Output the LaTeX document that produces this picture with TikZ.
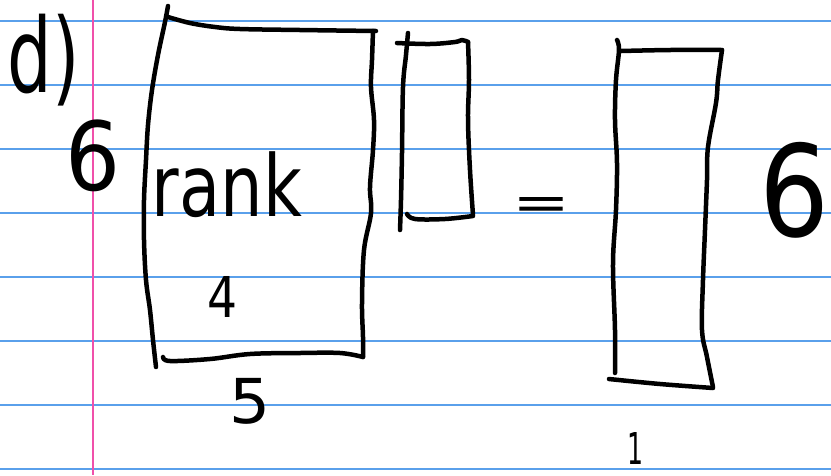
\documentclass[tikz,border=0pt]{standalone}
\usepackage{fontspec}
\setmainfont{DejaVu Sans}
\usepackage{graphicx}
\definecolor{ruleblue}{RGB}{90,160,235}
\definecolor{marginpink}{RGB}{240,80,170}
\tikzset{
  ruled/.style={draw=ruleblue, line width=1.6pt},
  margin/.style={draw=marginpink, line width=2.2pt},
  ink/.style={draw=black, line width=4.5pt, line cap=round, line join=round},
  note/.style={inner sep=0pt, outer sep=0pt, text=black},
}
% handwritten label squeezed into a given width x height (pt)
\newcommand{\hw}[3]{\resizebox*{#1pt}{#2pt}{#3}}

\begin{document}
\begin{tikzpicture}[x=1pt,y=-1pt]
  % notebook page
  \fill[white] (0,0) rectangle (831,475);
  \useasboundingbox (0,0) rectangle (831,475);
  \foreach \y in {21,85,...,469} \draw[ruled] (0,\y) -- (831,\y);
  \draw[margin] (93,0) -- (93,475);

  % labels
  \node[note] (part)  at (44,60)   {\hw{72}{92}{d)}};
  \node[note] (rows)  at (93,156)  {\hw{55}{72}{6}};
  \node[note] (rank)  at (227,185) {\hw{150}{66}{rank}};
  \node[note] (four)  at (223,297) {\hw{30}{41}{4}};
  \node[note] (cols)  at (250,401) {\hw{41}{46}{5}};
  \node[note] (eq)    at (541,208) {\hw{58}{22}{=}};
  \node[note] (one)   at (635,448) {\hw{16}{32}{1}};
  \node[note] (rows2) at (795,190) {\hw{70}{96}{6}};

  % 6x5 matrix
  \draw[ink] plot[smooth, tension=0.6] coordinates {(168,6) (165,22) (158,55) (152,90) (148,125) (146,160) (144,200) (144,240) (146,280) (150,310) (153,340) (156,367)};
  \draw[ink] plot[smooth, tension=0.6] coordinates {(168,17) (190,23) (215,27) (240,29) (300,30) (376,31)};
  \draw[ink] plot[smooth, tension=0.6] coordinates {(373,31) (372,60) (371,87) (374,120) (373,150) (370,187) (371,213) (364,250) (362,303) (363,337) (363,357)};
  \draw[ink] plot[smooth, tension=0.6] coordinates {(163,357) (170,361) (210,359) (250,354) (300,353) (340,353) (363,357)};

  % 5x1 vector
  \draw[ink] plot[smooth, tension=0.6] coordinates {(397,43) (430,44) (455,42) (462,40) (468,42)};
  \draw[ink] plot[smooth, tension=0.6] coordinates {(408,33) (406,55) (403,87) (402,153) (401,200) (400,230)};
  \draw[ink] plot[smooth, tension=0.6] coordinates {(468,42) (469,80) (468,120) (470,170) (473,215)};
  \draw[ink] plot[smooth, tension=0.6] coordinates {(407,214) (415,219) (445,219) (473,216)};

  % 6x1 result
  \draw[ink] plot[smooth, tension=0.6] coordinates {(617,40) (619,50) (616,80) (615,120) (617,163) (616,210) (613,263) (615,330) (615,373)};
  \draw[ink] plot[smooth, tension=0.6] coordinates {(621,51) (670,50) (722,50)};
  \draw[ink] plot[smooth, tension=0.6] coordinates {(722,50) (718,80) (716,103) (708,147) (707,180) (705,230) (703,280) (702,330) (707,357) (713,387)};
  \draw[ink] plot[smooth, tension=0.6] coordinates {(609,379) (660,384) (713,388)};
\end{tikzpicture}
\end{document}
